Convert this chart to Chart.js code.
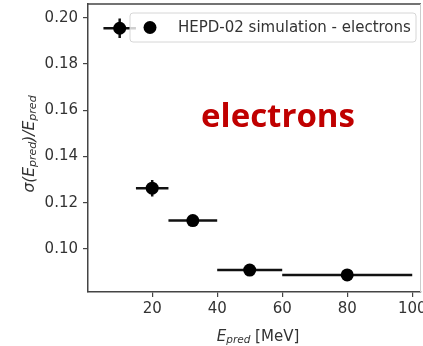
<!DOCTYPE html>
<html><head><meta charset="utf-8">
<script src="https://cdn.jsdelivr.net/npm/chart.js@4"></script>
<style>html,body{margin:0;padding:0;background:#fff}#wrap{width:423px;height:346px}</style>
</head><body><div id="wrap"><canvas id="c" width="423" height="346"></canvas></div>
<script>
const energies = [10, 20, 32.5, 50, 80];
const resolution = [0.1955, 0.1263, 0.1123, 0.0909, 0.0888];
const xErrLow = [5, 15, 25, 40, 60];
const xErrHigh = [15, 25, 40, 60, 100];
const yErr = [0.0042, 0.0036, 0.0015, 0.0012, 0.0012];
const xTicks = [20, 40, 60, 80, 100];
const yTicks = [0.10, 0.12, 0.14, 0.16, 0.18, 0.20];
const legendLabel = 'HEPD-02 simulation - electrons';
const annotation = 'electrons';

const FONT = '"DejaVu Sans", sans-serif';

const errorBars = {
  id: 'errorBars',
  beforeDatasetsDraw(chart) {
    const ctx = chart.ctx, xs = chart.scales.x, ys = chart.scales.y;
    ctx.save();
    ctx.strokeStyle = '#111';
    ctx.lineWidth = 2.5;
    for (let i = 0; i < energies.length; i++) {
      const y = ys.getPixelForValue(resolution[i]);
      const x = xs.getPixelForValue(energies[i]);
      ctx.beginPath();
      ctx.moveTo(xs.getPixelForValue(xErrLow[i]), y);
      ctx.lineTo(xs.getPixelForValue(xErrHigh[i]), y);
      ctx.moveTo(x, ys.getPixelForValue(resolution[i] - yErr[i]));
      ctx.lineTo(x, ys.getPixelForValue(resolution[i] + yErr[i]));
      ctx.stroke();
    }
    ctx.restore();
  },
  afterDatasetsDraw(chart) {
    const ctx = chart.ctx, a = chart.chartArea;
    ctx.save();
    ctx.strokeStyle = '#444';
    ctx.lineWidth = 1.5;
    ctx.beginPath();
    ctx.moveTo(a.left, a.top); ctx.lineTo(a.right, a.top);
    ctx.stroke();
    ctx.strokeStyle = '#ccc';
    ctx.lineWidth = 1;
    ctx.beginPath();
    ctx.moveTo(a.right - 0.5, a.top); ctx.lineTo(a.right - 0.5, a.bottom);
    ctx.stroke();
    const lx = 130, ly = 13, lw = 286, lh = 29, r = 3;
    ctx.beginPath();
    ctx.moveTo(lx + r, ly);
    ctx.arcTo(lx + lw, ly, lx + lw, ly + lh, r);
    ctx.arcTo(lx + lw, ly + lh, lx, ly + lh, r);
    ctx.arcTo(lx, ly + lh, lx, ly, r);
    ctx.arcTo(lx, ly, lx + lw, ly, r);
    ctx.closePath();
    ctx.fillStyle = 'rgba(255,255,255,0.8)';
    ctx.fill();
    ctx.strokeStyle = '#d6d6d6';
    ctx.lineWidth = 1;
    ctx.stroke();
    ctx.fillStyle = '#000';
    ctx.beginPath();
    ctx.arc(150, 27.5, 6.5, 0, Math.PI * 2);
    ctx.fill();
    ctx.fillStyle = '#333';
    ctx.font = '15px ' + FONT;
    ctx.textBaseline = 'middle';
    ctx.textAlign = 'left';
    ctx.fillText(legendLabel, 178, 28);
    ctx.fillStyle = '#c00000';
    ctx.font = 'bold 33px "Open Sans", sans-serif';
    ctx.textAlign = 'center';
    ctx.textBaseline = 'alphabetic';
    ctx.fillText(annotation, 278, 127);
    drawSubLabel(ctx, 258, 337, 0);
    drawYLabel(ctx, 30, 144);
    ctx.restore();
  }
};

function drawSubLabel(ctx, cx, cy, rot) {
  const parts = [
    {t: 'E', f: 'italic 15px ' + FONT, dy: 0},
    {t: 'pred', f: 'italic 10.5px ' + FONT, dy: 3},
    {t: ' [MeV]', f: '15px ' + FONT, dy: 0}
  ];
  drawParts(ctx, parts, cx, cy, rot);
}
function drawYLabel(ctx, cx, cy) {
  const parts = [
    {t: 'σ(', f: 'italic 15.5px ' + FONT, dy: 0},
    {t: 'E', f: 'italic 15.5px ' + FONT, dy: 0},
    {t: 'pred', f: 'italic 11px ' + FONT, dy: 3},
    {t: ')/', f: 'italic 15.5px ' + FONT, dy: 0},
    {t: 'E', f: 'italic 15.5px ' + FONT, dy: 0},
    {t: 'pred', f: 'italic 11px ' + FONT, dy: 3}
  ];
  drawParts(ctx, parts, cx, cy, -Math.PI / 2);
}
function drawParts(ctx, parts, cx, cy, rot) {
  ctx.save();
  ctx.translate(cx, cy);
  ctx.rotate(rot);
  let total = 0;
  for (const p of parts) { ctx.font = p.f; p.w = ctx.measureText(p.t).width; total += p.w; }
  let x = -total / 2;
  ctx.fillStyle = '#333';
  ctx.textAlign = 'left';
  ctx.textBaseline = 'middle';
  for (const p of parts) { ctx.font = p.f; ctx.fillText(p.t, x, p.dy); x += p.w; }
  ctx.restore();
}

new Chart(document.getElementById('c'), {
  type: 'scatter',
  data: {
    datasets: [{
      label: legendLabel,
      data: energies.map((e, i) => ({x: e, y: resolution[i]})),
      backgroundColor: '#000',
      borderWidth: 0,
      pointRadius: 6.5,
      pointHoverRadius: 6.5
    }]
  },
  options: {
    responsive: false,
    animation: false,
    events: [],
    layout: {autoPadding: false, padding: {top: 4, right: 2, left: 0, bottom: 0}},
    plugins: {legend: {display: false}, tooltip: {enabled: false}},
    scales: {
      x: {
        type: 'linear', min: 0.25, max: 102.7,
        afterBuildTicks: s => { s.ticks = xTicks.map(v => ({value: v})); },
        afterFit: s => { s.height = 54; s.paddingLeft = 0; s.paddingRight = 0; },
        grid: {drawOnChartArea: false, drawTicks: true, tickLength: 5, color: '#444', lineWidth: 1.2},
        border: {display: true, color: '#444', width: 1.5},
        ticks: {font: {family: FONT, size: 15}, color: '#333', padding: 3, maxRotation: 0, callback: v => String(v)}
      },
      y: {
        type: 'linear', min: 0.0814, max: 0.206,
        afterBuildTicks: s => { s.ticks = yTicks.map(v => ({value: v})); },
        afterFit: s => { s.width = 88; s.paddingTop = 0; s.paddingBottom = 0; },
        grid: {drawOnChartArea: false, drawTicks: true, tickLength: 5, color: '#444', lineWidth: 1.2},
        border: {display: true, color: '#444', width: 1.5},
        ticks: {font: {family: FONT, size: 15}, color: '#333', padding: 5, callback: v => v.toFixed(2)}
      }
    }
  },
  plugins: [errorBars]
});
</script></body></html>
